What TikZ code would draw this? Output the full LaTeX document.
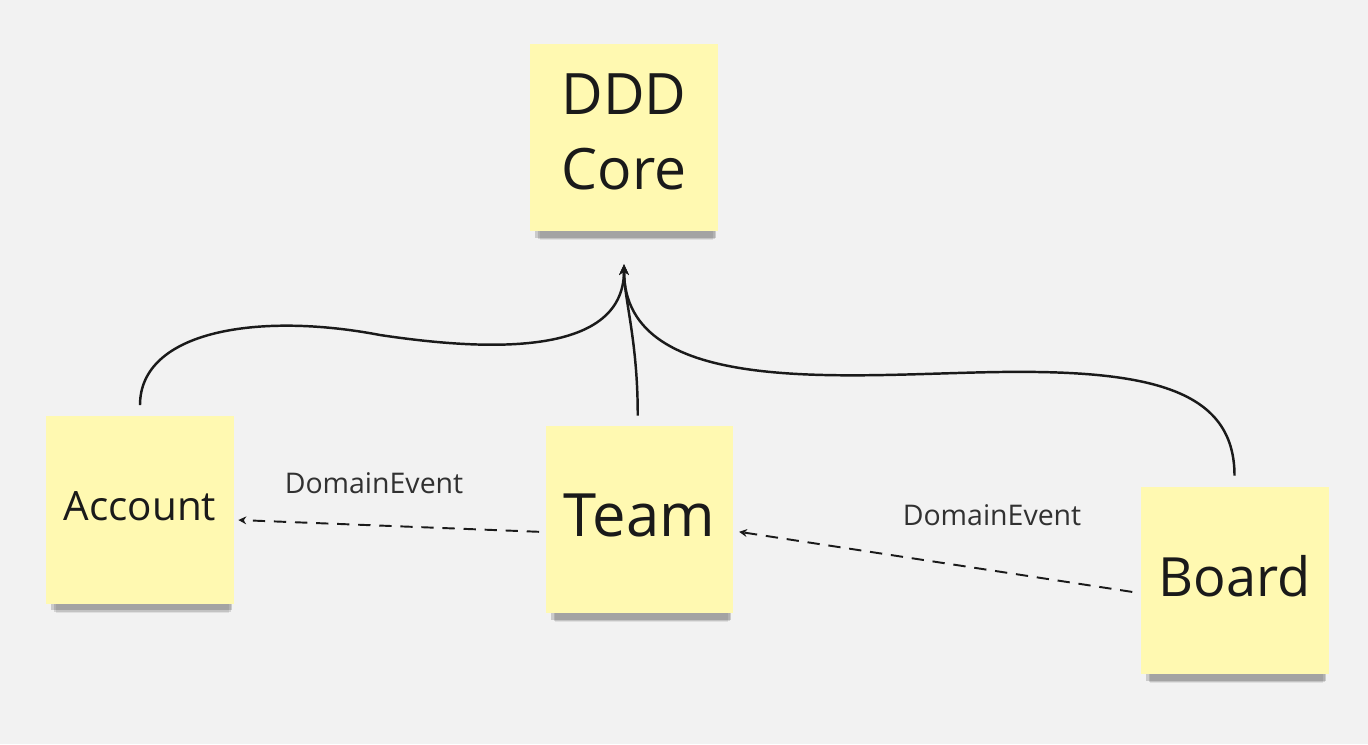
\documentclass[tikz,border=0pt]{standalone}
\usepackage{fontspec}
\setmainfont{Open Sans}
\usetikzlibrary{arrows.meta,shadows}
\definecolor{wall}{HTML}{F2F2F2}
\definecolor{sticky}{HTML}{FFF9B1}
\definecolor{ink}{HTML}{1A1A1A}
\tikzset{
  note/.style={fill=sticky, minimum width=3.76cm, minimum height=3.76cm, inner sep=0pt,
    text depth=0.5em, align=center, text=ink,
    drop shadow={shadow xshift=1.5pt, shadow yshift=-10pt, shadow scale=0.92, opacity=0.08, fill=black},
    drop shadow={shadow xshift=1.5pt, shadow yshift=-8pt, shadow scale=0.94, opacity=0.12, fill=black},
    drop shadow={shadow xshift=1pt, shadow yshift=-6pt, shadow scale=0.96, opacity=0.16, fill=black}},
  dep/.style={-{Stealth[length=6pt, width=5.5pt]}, line width=1.4pt, ink},
  event/.style={-{Stealth[length=4.5pt, width=4.5pt]}, line width=1.1pt, ink, dash pattern=on 7pt off 5pt},
  evlabel/.style={font=\fontsize{16.2}{19}\selectfont, text=ink!90}
}
\begin{document}
\begin{tikzpicture}[x=0.02cm, y=-0.02cm]
  \fill[wall] (0,0) rectangle (1368,744);
  \useasboundingbox (0,0) rectangle (1368,744);
  % sticky notes
  \node[note, text depth=0.65em, font=\fontsize{32.5}{43}\selectfont] (core) at (624,137.5) {DDD\\Core};
  \node[note, font=\fontsize{23}{27}\selectfont] (account) at (140,510) {Account};
  \node[note, font=\fontsize{34}{40}\selectfont] (team) at (639.5,519.5) {Team};
  \node[note, font=\fontsize{30.8}{36}\selectfont] (board) at (1234.5,580.5) {Board};
  \coordinate (hub) at ([yshift=-18.5pt]core.south);
  % dependencies on the core
  \draw[dep] ([yshift=6pt]account.north) .. controls +(0,-75) and +(-120,-23) .. (380,335)
    .. controls +(100,15) and +(0,95) .. (hub);
  \draw[dep] ([xshift=-1pt, yshift=5.5pt]team.north) .. controls +(0,-76) and +(0,35) .. (hub);
  \draw[dep] ([yshift=6pt]board.north) .. controls +(0,-86) and +(150,-2) .. (1000,372)
    .. controls +(-150,2) and +(0,135) .. (hub);
  % domain events
  \draw[event] ([xshift=-3.5pt, yshift=-7pt]team.west) -- ([xshift=2.3pt, yshift=-5.7pt]account.east);
  \draw[event] ([xshift=-4.5pt, yshift=-6.5pt]board.west) -- ([xshift=3pt, yshift=-7pt]team.east);
  \node[evlabel] (ev1) at (374,483) {DomainEvent};
  \node[evlabel] (ev2) at (992,515) {DomainEvent};
\end{tikzpicture}
\end{document}
